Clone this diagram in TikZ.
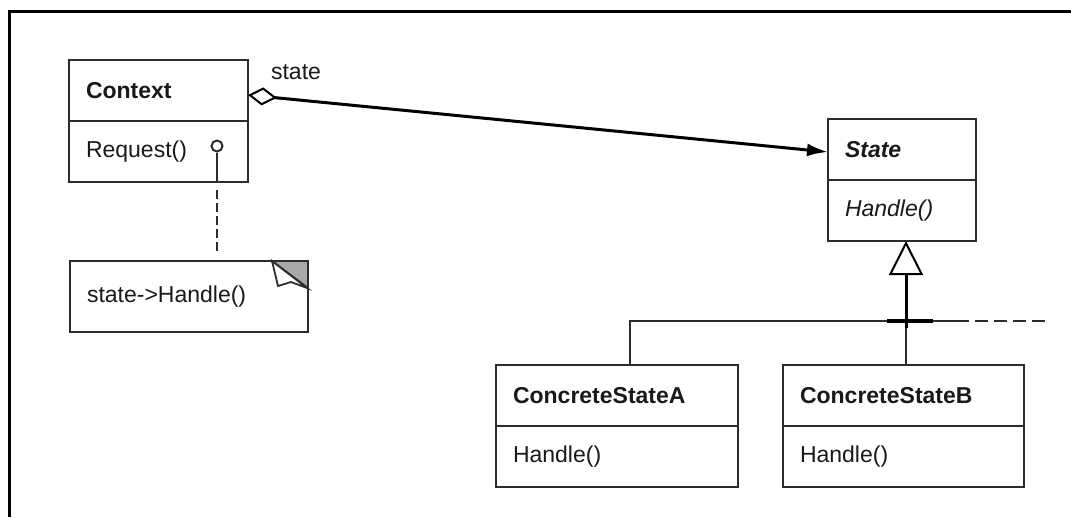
\documentclass[tikz,border=0pt]{standalone}
\usepackage{fontspec}
\setmainfont{Liberation Sans}
\usepackage{xcolor}
\usepackage{tikz}
\usetikzlibrary{arrows.meta, positioning}
\definecolor{umlline}{RGB}{45,45,45}
\definecolor{umltext}{RGB}{25,25,25}
\definecolor{foldgray}{RGB}{168,168,168}
\newcommand{\umlfont}{\fontsize{23}{27}\selectfont}

\begin{document}
\begin{tikzpicture}[x=1pt, y=-1pt, font=\umlfont, text=umltext,
  classpart/.style 2 args={draw=umlline, line width=2.2pt, inner xsep=17pt, inner ysep=0pt,
    outer sep=0pt, text width=#1, minimum height=#2, align=left, anchor=north west},
  thinline/.style={draw=umlline, line width=2.2pt}]
  \useasboundingbox (0,0) rectangle (1071,517);
  % Frame
  \draw[line width=3pt, black] (9,517) -- (9,11) -- (1071,11);

  % Context with its note
  \node[classpart={145pt}{61pt}, font=\umlfont\bfseries] (ctx) at (69,60) {Context};
  \node[classpart={145pt}{61pt}, below=0pt of ctx] (ctxops) {Request()};
  \node[circle, draw=umlline, line width=2pt, inner sep=0pt, minimum size=11pt] (req) at (217,146) {};
  \draw[thinline] (req.south) -- (req.south |- ctxops.south);
  \node[classpart={204pt}{71pt}] (note) at (70,261) {state->Handle()};
  \draw[thinline, dash pattern=on 9pt off 4pt, shorten <=8pt, shorten >=8pt]
    (ctxops.south -| req) -- (note.north -| req);
  % Folded corner
  \filldraw[draw=umlline, line width=1.8pt, fill=foldgray] ([xshift=-36pt]note.north east)
    -- (note.north east) -- ([yshift=-27pt]note.north east) -- cycle;
  \filldraw[draw=umlline, line width=1.8pt, fill=white] ([xshift=-36pt]note.north east)
    -- ([xshift=-30pt, yshift=-25pt]note.north east) -- ([xshift=-17pt, yshift=-21pt]note.north east)
    -- ([xshift=-1pt, yshift=-27pt]note.north east) -- cycle;

  % State
  \node[classpart={114pt}{61pt}, font=\umlfont\bfseries\itshape] (st) at (828,119) {State};
  \node[classpart={114pt}{61pt}, below=0pt of st, font=\umlfont\itshape] (stops) {Handle()};
  \draw[line width=3pt, black,
    {Diamond[open, line width=2pt, length=29pt, width=18pt]}-{Latex[length=21pt, width=13pt]}]
    ([yshift=-4.5pt]ctx.east) -- ([yshift=-2.5pt]st.west);
  \node (stlabel) at (296,72) {state};

  % Concrete states
  \node[classpart={208pt}{61pt}, font=\umlfont\bfseries] (csa) at (496,365) {ConcreteStateA};
  \node[classpart={208pt}{61pt}, below=0pt of csa] (csaops) {Handle()};
  \node[classpart={207pt}{61pt}, font=\umlfont\bfseries] (csb) at (783,365) {ConcreteStateB};
  \node[classpart={207pt}{61pt}, below=0pt of csb] (csbops) {Handle()};

  % Inheritance
  \coordinate (hub) at (906,321);
  \draw[thinline] ([xshift=13pt]csa.north) |- (hub) -- ++(63,0) coordinate (more);
  \draw[thinline] (hub) -- (hub |- csb.north);
  \draw[thinline, dash pattern=on 13pt off 6pt, dash phase=13pt] (more) -- ++(78,0) coordinate (moreend);
  \draw[line width=3.5pt, black] ([xshift=-19pt]hub) -- ([xshift=27pt]hub);
  \draw[line width=3pt, black, -{Triangle[open, line width=2pt, length=34pt, width=34pt]}]
    ([yshift=-7pt]hub) -- (hub |- stops.south);
\end{tikzpicture}
\end{document}
